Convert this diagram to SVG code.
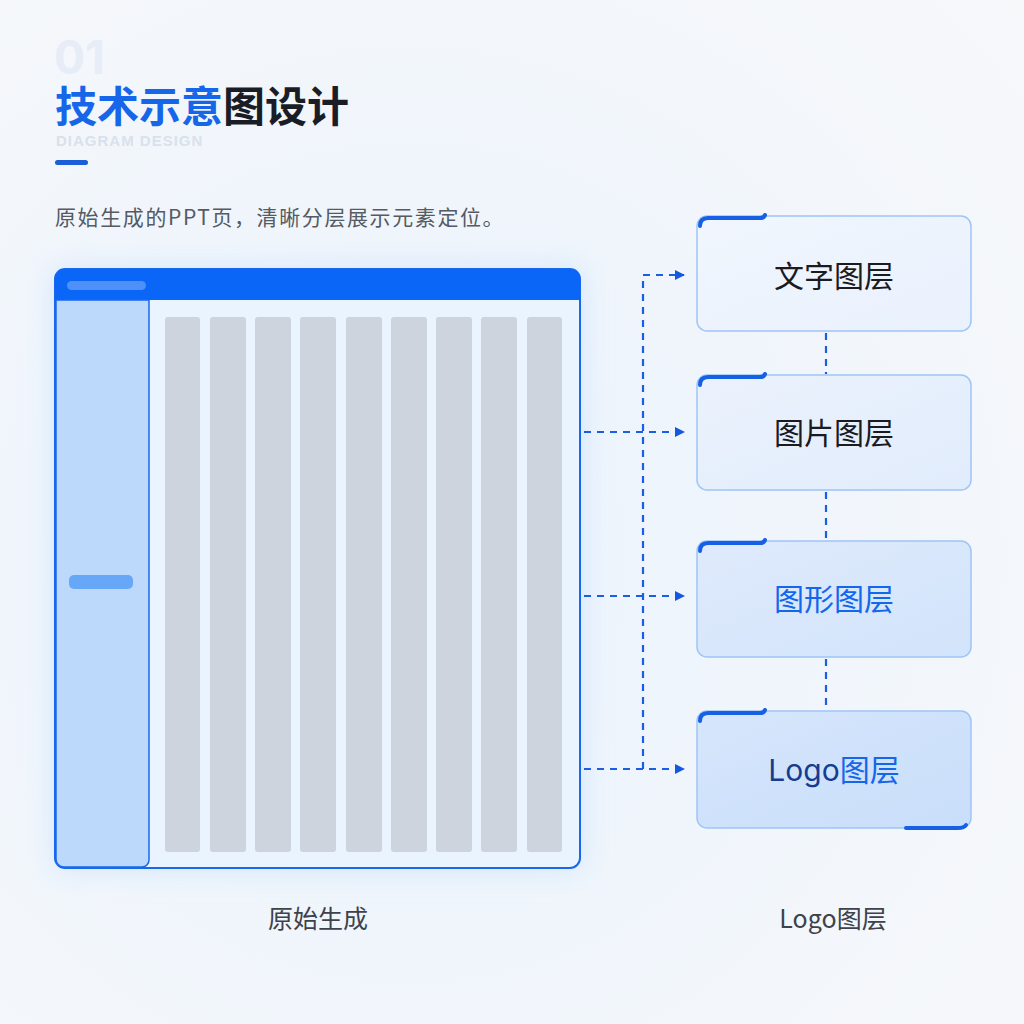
<svg xmlns="http://www.w3.org/2000/svg" width="1024" height="1024" viewBox="0 0 1024 1024">
<defs>
  <radialGradient id="bg" cx="0.4" cy="0.55" r="0.8">
    <stop offset="0" stop-color="#eaf3fd"/>
    <stop offset="1" stop-color="#f7f8fa"/>
  </radialGradient>
  <filter id="glow" x="-20%" y="-20%" width="140%" height="140%">
    <feGaussianBlur stdDeviation="14"/>
  </filter>
  <linearGradient id="g1" x1="0" y1="0" x2="1" y2="1"><stop offset="0" stop-color="#f1f6fe"/><stop offset="1" stop-color="#e9f1fd"/></linearGradient>
  <linearGradient id="g2" x1="0" y1="0" x2="1" y2="1"><stop offset="0" stop-color="#ebf2fd"/><stop offset="1" stop-color="#e1ecfc"/></linearGradient>
  <linearGradient id="g3" x1="0" y1="0" x2="1" y2="1"><stop offset="0" stop-color="#dfeafc"/><stop offset="1" stop-color="#d2e4fb"/></linearGradient>
  <linearGradient id="g4" x1="0" y1="0" x2="1" y2="1"><stop offset="0" stop-color="#d6e6fc"/><stop offset="1" stop-color="#c9defa"/></linearGradient>
  <marker id="arr" viewBox="0 0 10 10" refX="9" refY="5" markerWidth="10" markerHeight="10" markerUnits="userSpaceOnUse" orient="auto">
    <path d="M0,0 L10,5 L0,10 z" fill="#1558e0"/>
  </marker>
  <style>
    .cn{font-family:"Noto Sans CJK SC","Noto Sans",sans-serif;}
    .box{stroke:#9ec5f5;stroke-width:1.5;}
    .tab{fill:none;stroke:#1660e6;stroke-width:4;stroke-linecap:round;}
    .bar{fill:#cdd4dd;}
    .dash{fill:none;stroke:#1a5fe3;stroke-width:2.2;stroke-dasharray:7 6;}
    .lbl{font-size:30px;font-weight:400;text-anchor:middle;}
    .cap{font-size:25px;text-anchor:middle;fill:#3d424b;}
  </style>
</defs>
<rect width="1024" height="1024" fill="url(#bg)"/>

<g id="header">
  <text x="54" y="74" font-family="Inter, 'Liberation Sans', sans-serif" font-size="46" font-weight="700" fill="#e6edf6">01</text>
  <text x="55" y="122" class="cn" font-size="42" font-weight="700"><tspan fill="#1666ea">技术示意</tspan><tspan fill="#1b1d26">图设计</tspan></text>
  <text x="56" y="146" font-family="'Liberation Sans', sans-serif" font-size="15" font-weight="700" fill="#d9e1ec" letter-spacing="1">DIAGRAM DESIGN</text>
  <rect x="55" y="160" width="33" height="5" rx="2.5" fill="#1a5fd8"/>
  <text x="55" y="225" class="cn" font-size="21" fill="#555a63" letter-spacing="1.6">原始生成的PPT页，清晰分层展示元素定位。</text>
</g>

<g id="page">
  <rect x="50" y="265" width="535" height="608" rx="14" fill="#cfe4fc" filter="url(#glow)" opacity="0.7"/>
  <rect x="55" y="269" width="525" height="599" rx="10" fill="#eaf4fe" stroke="#1868ee" stroke-width="2"/>
  <path d="M55,300 V279 A10,10 0 0 1 65,269 H570 A10,10 0 0 1 580,279 V300 Z" fill="#0a66f6"/>
  <rect x="67" y="281" width="79" height="9" rx="4.5" fill="#4e8ff8"/>
  <path d="M56,300 H149 V860 A7,7 0 0 1 142,867 H64 A8,8 0 0 1 56,859 Z" fill="#bcd8fb" stroke="#1868ee" stroke-width="1.5"/>
  <rect x="69" y="575" width="64" height="14" rx="5" fill="#66a8f7"/>
  <rect class="bar" x="165" y="317" width="35" height="535" rx="3"/>
  <rect class="bar" x="210" y="317" width="36" height="535" rx="3"/>
  <rect class="bar" x="255" y="317" width="36" height="535" rx="3"/>
  <rect class="bar" x="300" y="317" width="36" height="535" rx="3"/>
  <rect class="bar" x="346" y="317" width="36" height="535" rx="3"/>
  <rect class="bar" x="391" y="317" width="36" height="535" rx="3"/>
  <rect class="bar" x="436" y="317" width="36" height="535" rx="3"/>
  <rect class="bar" x="481" y="317" width="36" height="535" rx="3"/>
  <rect class="bar" x="527" y="317" width="35" height="535" rx="3"/>
</g>

<g id="connectors">
  <path class="dash" d="M643,769 V275"/>
  <path class="dash" d="M643,275 H684" marker-end="url(#arr)"/>
  <path class="dash" d="M584,432 H684" marker-end="url(#arr)"/>
  <path class="dash" d="M584,596 H684" marker-end="url(#arr)"/>
  <path class="dash" d="M584,769 H684" marker-end="url(#arr)"/>
  <path class="dash" d="M826,333 V374"/>
  <path class="dash" d="M826,492 V540"/>
  <path class="dash" d="M826,659 V710"/>
</g>

<g id="layer-text">
  <rect class="box" x="697" y="216" width="274" height="115" rx="10" fill="url(#g1)"/>
  <path class="tab" d="M700,226 Q700,218 708,218 H760 Q764,218 765,215"/>
  <text x="834" y="287" class="cn lbl" fill="#1a1a1f">文字图层</text>
</g>
<g id="layer-image">
  <rect class="box" x="697" y="375" width="274" height="115" rx="10" fill="url(#g2)"/>
  <path class="tab" d="M700,385 Q700,377 708,377 H760 Q764,377 765,374"/>
  <text x="834" y="444" class="cn lbl" fill="#1a1a1f">图片图层</text>
</g>
<g id="layer-shape">
  <rect class="box" x="697" y="541" width="274" height="116" rx="10" fill="url(#g3)"/>
  <path class="tab" d="M700,551 Q700,543 708,543 H760 Q764,543 765,540"/>
  <text x="834" y="610" class="cn lbl" fill="#1466ea">图形图层</text>
</g>
<g id="layer-logo">
  <rect class="box" x="697" y="711" width="274" height="117" rx="10" fill="url(#g4)"/>
  <path class="tab" d="M700,721 Q700,713 708,713 H760 Q764,713 765,710"/>
  <path class="tab" d="M906,828 H958 Q964,828 966,825"/>
  <text x="834" y="781" class="lbl" font-family="Inter, 'Noto Sans CJK SC', sans-serif"><tspan fill="#153c91">Logo</tspan><tspan fill="#1466ea" font-family="'Noto Sans CJK SC', sans-serif">图层</tspan></text>
</g>

<g id="captions">
  <text x="318" y="928" class="cn cap">原始生成</text>
  <text x="833" y="928" class="cn cap">Logo图层</text>
</g>
</svg>
